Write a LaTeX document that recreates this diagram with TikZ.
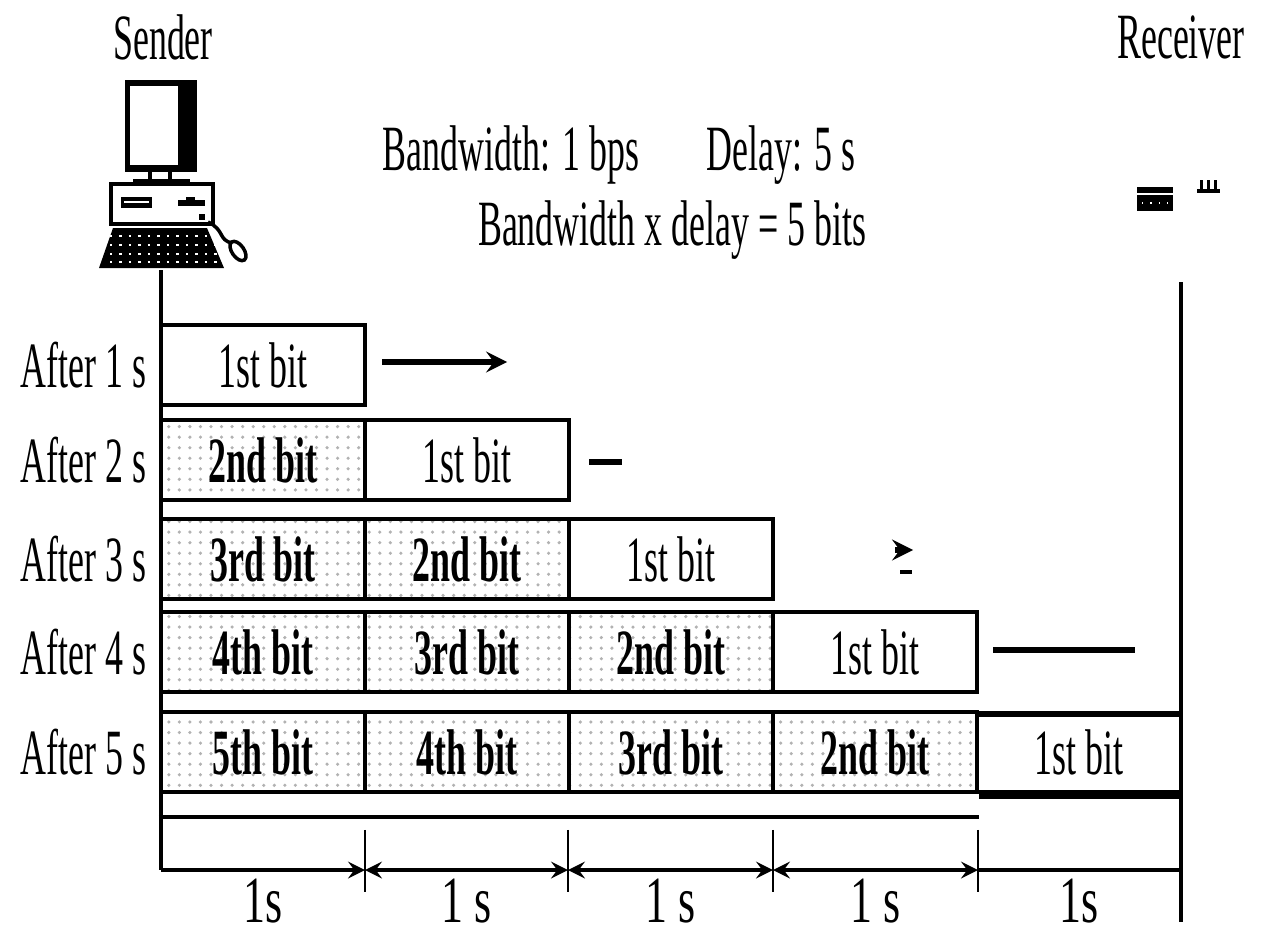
\documentclass[tikz,border=0pt]{standalone}
\usepackage{graphicx}
\usepackage{fontspec}
\setmainfont{Liberation Serif}
\usetikzlibrary{patterns}

% tall narrow lettering
\newcommand{\tall}[2][1.8]{\scalebox{1}[#1]{#2}}

\tikzset{
  lbl/.style={inner sep=0pt, font=\fontsize{10.2}{12}\selectfont},
  cell/.style={draw, line width=1.2pt, minimum width=2.04cm, minimum height=0.8cm,
    inner sep=0pt, font=\fontsize{10.2}{12}\selectfont},
  sent/.style={cell, pattern=dots, pattern color=gray!60,
    font=\fontsize{10.2}{12}\selectfont\bfseries},
  wire/.style={line width=1.6pt},
  dim/.style={line width=1.1pt},
  sec/.style={lbl, below=0.07cm, font=\fontsize{12.5}{14}\selectfont},
}

\begin{document}
\begin{tikzpicture}[x=0.01cm,y=-0.01cm,>=stealth]
\useasboundingbox (0,0) rectangle (1276,933);

\node[lbl] (sender) at (163,37) {\tall{Sender}};
\node[lbl] (receiver) at (1181,37) {\tall{Receiver}};
\node[lbl] (bw) at (511,155) {\tall{Bandwidth: 1 bps}};
\node[lbl] (delay) at (781,155) {\tall{Delay: 5 s}};
\node[lbl] (bdp) at (672,230) {\tall{Bandwidth x delay = 5 bits}};

% sender pc
\fill (125,80) rectangle (197,172);
\fill[white] (130,86) rectangle (178,165);
\draw[line width=1pt] (150,172) -- (150,181) (170,172) -- (170,181);
\draw[line width=1.4pt] (133,181) -- (190,181);
\draw[line width=1.2pt] (111,184) rectangle (213,224);
\fill (121,197) rectangle (152,208);
\draw[white,line width=0.5pt] (124,202) -- (149,202);
\draw[line width=1.5pt] (178,203) -- (205,203);
\fill (186,197) rectangle (195,203);
\fill (199,214) rectangle (205,220);
\fill (113,228) -- (207,228) -- (224,268) -- (99,268) -- cycle;
\foreach \yk in {236,245,254,262}
  \draw[white,line width=0.7pt,dotted] (110,\yk) -- (218,\yk);
\draw[line width=1pt] (208,222) .. controls (225,230) and (218,240) .. (232,243);
\draw[line width=1pt] (238,251) ellipse [x radius=0.06cm, y radius=0.11cm, rotate=35];

% receiver pc (what is left of it)
\draw[line width=1.5pt] (1137,190) -- (1173,190);
\fill (1137,195) rectangle (1173,211);
\draw[white,thin,dotted] (1142,203) -- (1168,203);
\foreach \xk in {1201,1208,1215}
  \fill (\xk-1.5,180) rectangle (\xk+1.5,190);
\draw[line width=1pt] (1197,191) -- (1220,191);

% time lines of both ends
\draw[line width=1pt] (161,270) -- (161,870);
\draw[line width=1pt] (1181,282) -- (1181,922);

% bits on the link, one row per second
\foreach \row/\yy in {1/365,2/460,3/559,4/652,5/752}{
  \node[lbl,anchor=east] (after\row) at (147,\yy) {\tall{After \row\ s}};
  \pgfmathtruncatemacro\last{min(\row,4)}
  \foreach \col in {1,...,\last}{
    \pgfmathtruncatemacro\bitno{\row-\col+1}
    \pgfmathsetmacro\xx{263+204*(\col-1)}
    \ifnum\bitno=1
      \node[cell] (b\row-\col) at (\xx,\yy) {\tall{1st bit}};
    \else
      \node[sent] (b\row-\col) at (\xx,\yy)
        {\tall{\bitno\ifcase\bitno\or st\or nd\or rd\else th\fi\ bit}};
    \fi
  }
}
\node[lbl] (b5-5) at (1079,752) {\tall{1st bit}};
\draw[line width=1.6pt] ([yshift=-0.04cm]b5-4.north east) -- ++(203,0);
\draw[line width=2.6pt] (b5-4.south east) -- ++(203,0);
\draw[line width=1.2pt] ([yshift=-0.23cm]b5-1.south west) -- ([yshift=-0.23cm]b5-4.south east);

% leading edge of the first bit
\draw[wire,->] ([xshift=0.15cm,yshift=0.03cm]b1-1.east) -- ++(125,0);
\draw[wire] ([xshift=0.18cm,yshift=-0.02cm]b2-2.east) -- ++(33,0);
\draw[wire,->] ([shift={(120,-9)}]b3-3.east) -- ++(18,0);
\draw[line width=1.2pt] ([shift={(125,13)}]b3-3.east) -- ++(12,0);
\draw[wire] ([shift={(14,-2)}]b4-4.east) -- ++(142,0);

% one second per cell
\foreach \i/\xt in {0/161,1/365,2/568,3/773,4/978,5/1181}
  \coordinate (t\i) at (\xt,870);
\foreach \i in {1,...,4}
  \draw[line width=0.7pt] ([yshift=0.4cm]t\i) -- ([yshift=-0.22cm]t\i);
\draw[dim,->] (t0) -- node[sec] (s1) {\tall[1.5]{1s}} (t1);
\draw[dim,<->] (t1) -- node[sec] (s2) {\tall[1.5]{1 s}} (t2);
\draw[dim,<->] (t2) -- node[sec] (s3) {\tall[1.5]{1 s}} (t3);
\draw[dim,<->] (t3) -- node[sec] (s4) {\tall[1.5]{1 s}} (t4);
\draw[dim] (t4) -- node[sec] (s5) {\tall[1.5]{1s}} (t5);
\end{tikzpicture}
\end{document}
